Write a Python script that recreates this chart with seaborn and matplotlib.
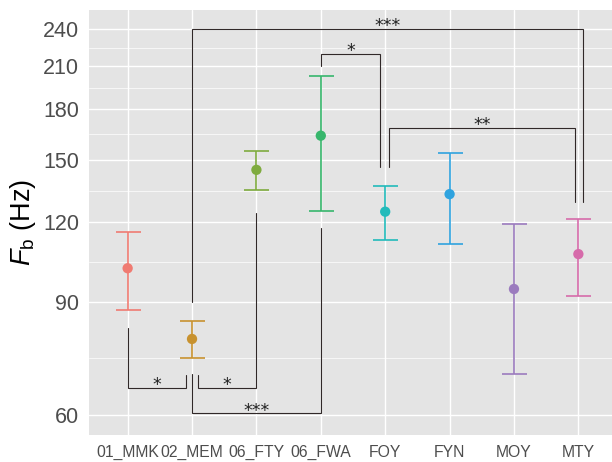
import numpy as np
import pandas as pd
import matplotlib
matplotlib.use("Agg")
import matplotlib.pyplot as plt
from matplotlib.ticker import FixedLocator, NullFormatter
import seaborn as sns

# data (Fb in Hz, log axis)
sites = ["01_MMK", "02_MEM", "06_FTY", "06_FWA", "FOY", "FYN", "MOY", "MTY"]
fb_mean = [101.6, 78.8, 144.7, 163.6, 124.5, 132.6, 94.3, 106.9]
fb_low = [87.5, 73.7, 134.6, 124.8, 112.5, 110.9, 69.5, 92.1]
fb_high = [115.6, 84.1, 154.7, 202.5, 136.7, 153.9, 119.2, 121.3]
colors = ["#F07B72", "#C8922F", "#7FAB3F", "#37B66C",
          "#22BBBB", "#2FA3DF", "#9B7BBE", "#D66BAA"]
y_ticks = [60, 90, 120, 150, 180, 210, 240]

# significance brackets: left site, right site, left tip, bar level, right tip, label
br_left = ["01_MMK", "02_MEM", "02_MEM", "06_FWA", "FOY", "02_MEM"]
br_right = ["02_MEM", "06_FTY", "06_FWA", "FOY", "MTY", "MTY"]
br_tip1 = [82.0, 69.3, 69.4, 210.4, 146.4, 90.0]
br_level = [66.1, 66.1, 60.3, 219.7, 168.0, 240.0]
br_tip2 = [69.3, 124.0, 117.5, 146.4, 128.8, 128.8]
br_label = ["*", "*", "***", "*", "**", "***"]
# small horizontal nudges so legs sharing a site don't overlap
br_dx1 = [0.0, 0.09, 0.0, 0.0, 0.06, 0.0]
br_dx2 = [-0.09, 0.0, 0.0, -0.08, -0.06, 0.07]

df = pd.DataFrame({"site": sites, "fb": fb_mean, "low": fb_low, "high": fb_high})

sns.set_style("darkgrid", {"axes.facecolor": "#E4E4E4", "grid.color": "white"})
plt.rcParams["font.family"] = ["Liberation Sans", "DejaVu Sans"]
plt.rcParams["mathtext.fontset"] = "custom"
plt.rcParams["mathtext.rm"] = "Liberation Sans"
plt.rcParams["mathtext.it"] = "Liberation Sans:italic"

fig = plt.figure(figsize=(6.12, 4.62), dpi=100)
ax = fig.add_axes([89 / 612, 27 / 462, 528 / 612, 425 / 462])
ax.set_yscale("log")

pos = {s: i for i, s in enumerate(sites)}
for i, row in df.iterrows():
    ax.errorbar(pos[row["site"]], row["fb"],
                yerr=[[row["fb"] - row["low"]], [row["high"] - row["fb"]]],
                fmt="none", ecolor=colors[i], elinewidth=1.2,
                capsize=9, capthick=1.2, zorder=3)

sns.scatterplot(data=df, x="site", y="fb", hue="site", palette=colors,
                s=55, edgecolor="none", legend=False, ax=ax, zorder=4)

line_col = "#302828"
for k in range(len(br_label)):
    x1 = pos[br_left[k]] + br_dx1[k]
    x2 = pos[br_right[k]] + br_dx2[k]
    ax.plot([x1, x1, x2, x2], [br_tip1[k], br_level[k], br_level[k], br_tip2[k]],
            color=line_col, lw=0.8, zorder=5, solid_joinstyle="miter")
    ax.annotate(br_label[k], xy=((x1 + x2) / 2, br_level[k]), xytext=(0, -1.5),
                textcoords="offset points", ha="center", va="baseline",
                fontsize=12.5, color="#222222", family="DejaVu Sans")

ax.set_xlim(-0.6, 7.6)
ax.set_ylim(55.8, 257)
ax.yaxis.set_major_locator(FixedLocator(y_ticks))
ax.set_yticklabels([str(t) for t in y_ticks])
minor = np.sqrt(np.array(y_ticks[:-1]) * np.array(y_ticks[1:]))
ax.yaxis.set_minor_locator(FixedLocator(minor))
ax.yaxis.set_minor_formatter(NullFormatter())
ax.grid(which="major", color="white", lw=1.0)
ax.grid(which="minor", axis="y", color="white", lw=0.5)

ax.tick_params(axis="y", which="major", labelsize=15.5, colors="#4D4D4D",
               length=4, width=0.8, pad=3)
ax.tick_params(axis="x", which="major", labelsize=11.3, colors="#4D4D4D",
               length=4, width=0.8, pad=3)
ax.tick_params(which="minor", length=0)
for lbl in ax.get_yticklabels() + ax.get_xticklabels():
    lbl.set_color("#4D4D4D")
for sp in ax.spines.values():
    sp.set_visible(False)

ax.set_xlabel("")
ax.set_ylabel(r"$F_{\mathrm{b}}$ (Hz)", fontsize=19.5, color="black", labelpad=4)

fig.savefig("out.png", dpi=100)
